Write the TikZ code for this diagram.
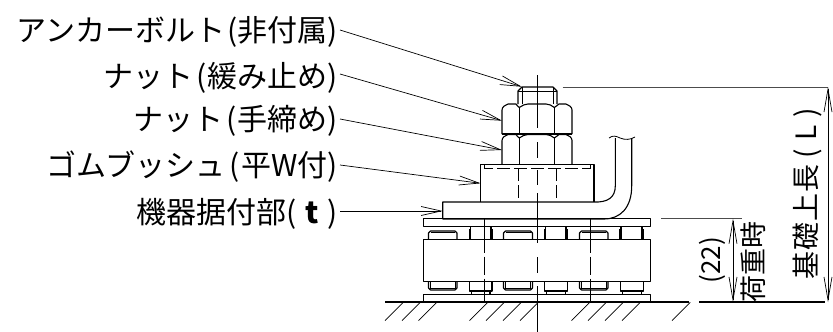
\documentclass[tikz,border=0pt]{standalone}
\usepackage{fontspec}
\usetikzlibrary{arrows.meta}
\newfontfamily\jpfont{Noto Sans CJK JP}
\tikzset{
  part/.style={draw=black,line width=1.1pt,line join=round},
  thin part/.style={draw=black,line width=0.8pt},
  hidden/.style={draw=black,line width=0.8pt,dash pattern=on 13pt off 4pt},
  centre/.style={draw=black,line width=0.8pt},
  hatch/.style={draw=black,line width=0.7pt},
  leader/.style={draw=black,line width=0.7pt,-{Straight Barb[length=20pt,width=9pt,line width=0.7pt]}},
  dim/.style={draw=black,line width=0.7pt,{Straight Barb[length=23pt,width=8pt,line width=0.7pt]}-{Straight Barb[length=23pt,width=8pt,line width=0.7pt]}},
  ext/.style={draw=black!70,line width=0.9pt},
  lab/.style={font=\jpfont\fontsize{30}{30}\selectfont,anchor=east,inner sep=0pt,text=black},
  vlab/.style={font=\jpfont\fontsize{28}{28}\selectfont,rotate=90,inner sep=0pt,text=black}
}
\newcommand{\nutbody}[2]{%
  \draw[part] (502,#2) -- (502,#1+6) .. controls (502,#1+3) and (505,#1+1) .. (508,#1) -- (516,#1)
    .. controls (517,#1+1) and (518,#1+3) .. (519.3,#1+3.5)
    .. controls (522,#1+1.5) and (525,#1) .. (528,#1) -- (546,#1)
    .. controls (549,#1) and (552,#1+1.5) .. (554.3,#1+3.5)
    .. controls (556,#1+3) and (557,#1+1) .. (559,#1) -- (566,#1)
    .. controls (569,#1+1) and (572,#1+3) .. (572,#1+6) -- (572,#2);
  \draw[part] (519.3,#1+3.5) -- (519.3,#2) (554.3,#1+3.5) -- (554.3,#2);
}
\newcommand{\upperpad}[2]{%
  \draw[part] (#1,239.3) -- (#1,233) -- (#1+2,231) -- (#2-2,231) -- (#2,233) -- (#2,239.3);
  \draw[thin part] (#1+2,232.5) -- (#2-2,232.5);
}
\newcommand{\tallupper}[2]{%
  \draw[part] (#1,226.7) -- (#1,239.3) (#2,226.7) -- (#2,239.3);
  \draw[thin part] (#1-1.5,229) -- (#1-1.5,239.3) (#2+1.5,229) -- (#2+1.5,239.3) (#1-1.5,229) -- (#1,229) (#2,229) -- (#2+1.5,229);
}
\newcommand{\lowerpad}[2]{%
  \draw[part] (#1,281.3) -- (#1,288) -- (#1+2,290) -- (#2-2,290) -- (#2,288) -- (#2,281.3);
  \draw[thin part] (#1+2,281.3) -- (#1+2,288.5) -- (#2-2,288.5) -- (#2-2,281.3);
}
\newcommand{\talllower}[2]{%
  \draw[part] (#1,281.3) -- (#1,291) -- (#2,291) -- (#2,281.3);
  \draw[part] (#1+2,291) -- (#1+2,294.7) (#2-2,291) -- (#2-2,294.7);
}
\begin{document}
\begin{tikzpicture}[x=1pt,y=-1pt]
\useasboundingbox (0,0) rectangle (833,332);
% labels
\node[lab] (l1) at (338,32) {アンカーボルト\hspace{2pt}(非付属)};
\node[lab] (l2) at (338,78) {ナット\hspace{3pt}(\hspace{1pt}緩み止め)};
\node[lab] (l3) at (338,121) {ナット\hspace{3pt}(\hspace{1pt}手締め)};
\node[lab] (l4) at (338,167) {ゴムブッシュ\hspace{4pt}(\hspace{2pt}平W付)};
\node[lab] (l5) at (338,214) {機器据付部(\hspace{9pt}\textbf{t}\hspace{9pt})};
% leader ends
\coordinate (t1) at (521.7,86.7);
\coordinate (t2) at (502,120.7);
\coordinate (t3) at (502,150);
\coordinate (t4) at (480.7,183.3);
\coordinate (t5) at (442.7,211);
\draw[leader] ([shift={(2,-2)}]l1.east) -- (t1);
\draw[leader] ([shift={(2,-4)}]l2.east) -- (t2);
\draw[leader] ([shift={(2,-2)}]l3.east) -- (t3);
\draw[leader] ([shift={(2,-2)}]l4.east) -- (t4);
\draw[leader] ([shift={(2,-3)}]l5.east) -- (t5);
% bolt
\draw[part] (518,104) -- (518,91) -- (522,87) -- (553,87) -- (557,91) -- (557,104);
\draw[thin part] (522,87) -- (522,104) (553,87) -- (553,104) (518,91) -- (557,91);
% nuts
\nutbody{104}{134}
\nutbody{134.5}{164.3}
\draw[part] (502,134) -- (572,134);
% bush
\draw[part] (480.7,202) -- (480.7,164.3) -- (594,164.3) -- (594,202);
\draw[hidden] (484,164.3) -- (484,168.3) -- (590.7,168.3) -- (590.7,164.3);
\draw[hidden] (518.3,168.3) -- (518.3,202) (556,168.3) -- (556,202);
% plate
\draw[part] (442.7,219) -- (442.7,202) -- (594,202)
  .. controls (607,202.5) and (615.3,198) .. (615.3,186) -- (615.3,138);
\draw[part] (631.7,138) -- (631.7,186) .. controls (631.7,208) and (620,219) .. (604,219) -- (442.7,219);
\draw[thin part] (609,138) .. controls (613,135) and (616,136) .. (620,138) .. controls (625,140) and (630,140) .. (635,137);
% base plates and block
\draw[part] (423.3,218.7) rectangle (650.7,226.7);
\draw[part] (423.3,239.3) rectangle (650.7,281.3);
\draw[part] (423.3,302) -- (423.3,294.7) -- (650.7,294.7) -- (650.7,302);
% pads
\upperpad{428.5}{457}
\tallupper{470.5}{491}
\upperpad{503.5}{532.5}
\tallupper{545.5}{566}
\upperpad{579.5}{608}
\tallupper{621}{642}
\lowerpad{428.5}{457}
\talllower{469.5}{492}
\lowerpad{503.5}{532.5}
\talllower{544.5}{567.5}
\lowerpad{579.5}{608}
\talllower{620.5}{643.5}
% hidden bolts
\draw[thin part,dash pattern=on 26pt off 4pt on 18pt off 4pt] (484,226.7) -- (484,302);
\draw[thin part,dash pattern=on 26pt off 4pt on 18pt off 4pt] (590,226.7) -- (590,302);
\draw[thin part] (484,218.7) -- (484,226.7) (590,218.7) -- (590,226.7);
% centre line
\draw[centre] (537,75) -- (537,128) (537,142) -- (537,158) (537,170) -- (537,185)
  (537,193) -- (537,243) (537,257) -- (537,273) (537,286) -- (537,332);
% ground
\draw[part] (385,302) -- (689,302);
\draw[part] (699,302) -- (825,302);
\foreach \hx in {385,402,418.5,469.5,486,503,520,571.5,588,605,622,672}
  \draw[hatch] (\hx,320.7) -- ++(18.3,-18.3);
% dimensions
\draw[ext] (562.7,87) -- (828,87);
\draw[ext] (661,218.7) -- (741.7,218.7);
\coordinate (d1a) at (828,87);
\coordinate (d1b) at (828,302);
\coordinate (d2a) at (733,218.7);
\coordinate (d2b) at (733,302);
\draw[dim] (d1a) -- (d1b);
\draw[dim] (d2a) -- (d2b);
\node[vlab] (v1) at (807,193.5) {基\hspace{1pt}礎\hspace{1pt}上\hspace{1pt}長\hspace{6pt}(\hspace{8pt}L\hspace{8pt})};
\node[vlab,font=\jpfont\fontsize{26}{26}\selectfont] (v2) at (712,260) {(22)};
\node[vlab,font=\jpfont\fontsize{27}{27}\selectfont] (v3) at (753,262) {荷重時};
\end{tikzpicture}
\end{document}
